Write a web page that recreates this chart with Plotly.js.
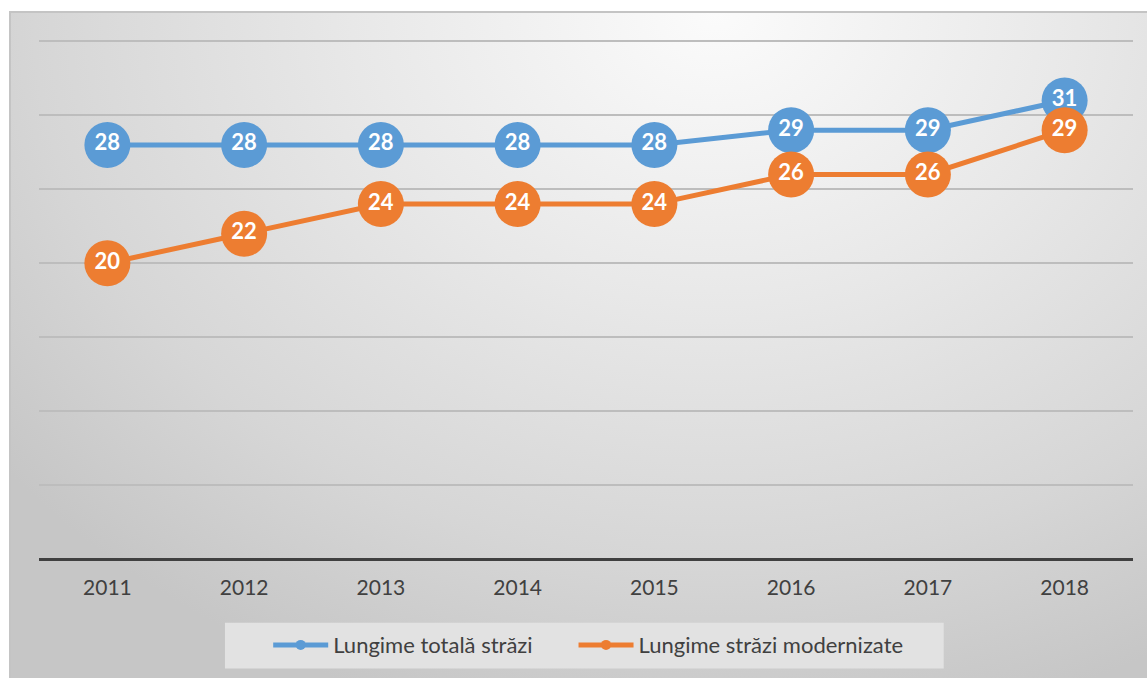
<!DOCTYPE html>
<html>
<head>
<meta charset="utf-8">
<script src="https://cdn.plot.ly/plotly-3.0.1.min.js"></script>
<style>
  html, body { margin: 0; padding: 0; background: #ffffff; }
  #bg {
    position: absolute; left: 9px; top: 11px; width: 1138px; height: 667px;
    border-top: 2px solid #c4c4c4; border-left: 2px solid #c4c4c4; box-sizing: border-box;
    background: radial-gradient(ellipse 80% 110% at 62% 0%, #fbfbfb 0%, #e8e8e8 40%, #d6d6d6 75%, #c6c6c6 100%);
  }
  #chart { position: absolute; left: 0; top: 0; width: 1147px; height: 678px; }
</style>
</head>
<body>
<div id="bg"></div>
<div id="chart"></div>
<script>
const years = ['2011', '2012', '2013', '2014', '2015', '2016', '2017', '2018'];
const totalLength = [28, 28, 28, 28, 28, 29, 29, 31];
const modernizedLength = [20, 22, 24, 24, 24, 26, 26, 29];
const seriesNames = ['Lungime totală străzi', 'Lungime străzi modernizate'];
const seriesColors = ['#5B9BD5', '#ED7D31'];

const FONT = 'Lato, "Open Sans", sans-serif';

function mainTrace(values, i) {
  return {
    x: years, y: values, type: 'scatter', mode: 'lines+markers+text',
    name: seriesNames[i], showlegend: false,
    line: { color: seriesColors[i], width: 5 },
    marker: { color: seriesColors[i], size: 46 },
    text: values.map(v => String(v)),
    textposition: 'middle center',
    textfont: { family: FONT, size: 22, color: '#ffffff', weight: 'bold' },
    hoverinfo: 'x+y'
  };
}
function legendTrace(i, legendId) {
  return {
    x: [null], y: [null], type: 'scatter', mode: 'lines+markers',
    name: seriesNames[i], showlegend: true, legend: legendId,
    line: { color: seriesColors[i], width: 5 },
    marker: { color: seriesColors[i], size: 10 }
  };
}

const data = [
  mainTrace(totalLength, 0),
  mainTrace(modernizedLength, 1),
  legendTrace(0, 'legend'),
  legendTrace(1, 'legend2')
];

function legendBox(xPaper) {
  return {
    orientation: 'h', x: xPaper, xanchor: 'left', y: -0.164, yanchor: 'middle',
    bgcolor: 'rgba(0,0,0,0)', itemwidth: 55,
    font: { family: FONT, size: 22, color: '#404040' }
  };
}

const layout = {
  width: 1147, height: 678,
  margin: { l: 39, r: 14, t: 33.6, b: 117 },
  paper_bgcolor: 'rgba(0,0,0,0)',
  plot_bgcolor: 'rgba(0,0,0,0)',
  font: { family: FONT, size: 21, color: '#404040' },
  xaxis: {
    type: 'category', range: [-0.5, 7.5],
    showgrid: false, zeroline: false, showline: false,
    ticks: '', ticklabelstandoff: 14,
    tickfont: { family: FONT, size: 21, color: '#404040' },
    fixedrange: true
  },
  yaxis: {
    range: [0, 35.5], dtick: 5, tick0: 0,
    showgrid: true, gridcolor: '#bdbdbd', gridwidth: 2,
    zeroline: true, zerolinecolor: '#404040', zerolinewidth: 3,
    showticklabels: false, ticks: '', showline: false,
    fixedrange: true
  },
  showlegend: true,
  legend: legendBox(0.2095),
  legend2: legendBox(0.4886),
  shapes: [{
    type: 'rect', xref: 'paper', yref: 'paper',
    x0: 0.170, x1: 0.827, y0: -0.2085, y1: -0.1216,
    fillcolor: '#e2e2e2', line: { width: 0 }, layer: 'below'
  }]
};

Plotly.newPlot('chart', data, layout, { displayModeBar: false, staticPlot: true });
</script>
</body>
</html>
